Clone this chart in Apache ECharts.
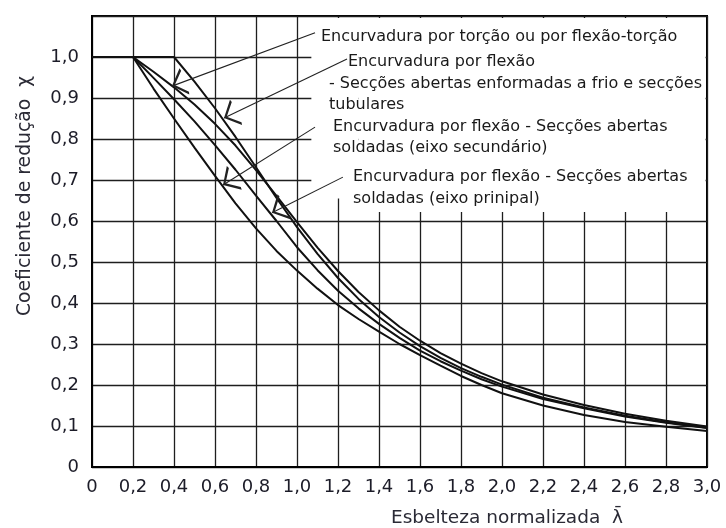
<!DOCTYPE html>
<html><head><meta charset="utf-8">
<script src="https://cdn.jsdelivr.net/npm/echarts@6/dist/echarts.min.js"></script>
<style>html,body{margin:0;padding:0;background:#fff}#c{width:726px;height:528px}</style>
</head><body><div id="c"></div>
<script>
// Normalised slenderness values (x)
const lambdas = [0,0.1,0.2,0.3,0.4,0.5,0.6,0.7,0.8,0.9,1.0,1.1,1.2,1.3,1.4,1.5,1.6,1.7,1.8,1.9,2.0,2.2,2.4,2.6,2.8,3.0];
// Reduction factor curves
const curveTorsion = [1,1,1,1,1,0.940,0.875,0.805,0.731,0.656,0.585,0.520,0.461,0.410,0.366,0.328,0.295,0.266,0.241,0.220,0.201,0.169,0.145,0.125,0.109,0.096];
const curveB = [1,1,1,0.964,0.926,0.884,0.837,0.784,0.724,0.661,0.597,0.535,0.478,0.427,0.382,0.342,0.308,0.278,0.252,0.229,0.209,0.177,0.151,0.130,0.113,0.099];
const curveC = [1,1,1,0.949,0.897,0.843,0.785,0.725,0.662,0.600,0.536,0.480,0.430,0.387,0.349,0.315,0.284,0.258,0.235,0.214,0.196,0.166,0.143,0.123,0.108,0.095];
const curveD = [1,1,1,0.923,0.850,0.779,0.710,0.643,0.582,0.527,0.479,0.435,0.395,0.361,0.330,0.300,0.273,0.247,0.222,0.200,0.180,0.150,0.127,0.110,0.098,0.088];

const xAxisTitle = 'Esbelteza normalizada  \u03BB\u0304';
const yAxisTitle = 'Coeficiente de redução  \u03C7';

// Annotation texts
const annotLines = [
  'Encurvadura por torção ou por flexão-torção',
  'Encurvadura por flexão',
  '- Secções abertas enformadas a frio e secções',
  'tubulares',
  'Encurvadura por flexão - Secções abertas',
  'soldadas (eixo secundário)',
  'Encurvadura por flexão - Secções abertas',
  'soldadas (eixo prinipal)'
];
// Arrow start / tip in data coordinates
const arrowStarts = [[1.088,1.059],[1.244,0.995],[1.088,0.829],[1.224,0.707]];
const arrowTips   = [[0.39,0.929],[0.644,0.851],[0.639,0.688],[0.878,0.620]];

function pairs(ys){ return lambdas.map((x,i)=>[x, ys[i]]); }
function fmtNum(v){ return v === 0 ? '0' : v.toFixed(1).replace('.', ','); }
function fmtY(v){ return v > 1.05 ? '' : fmtNum(v); }

const chart = echarts.init(document.getElementById('c'), null, {renderer:'canvas'});
const curveStyle = {type:'line', showSymbol:false, symbol:'none', smooth:false, z:4,
  lineStyle:{color:'#111', width:2}, silent:true};

const annotPos = [[321,37],[348,62],[329,84],[329,105],[333,127],[333,148],[353,177],[353,199]];
const txtFont = '16px "DejaVu Sans"';
const graphics = annotLines.map((t,i)=>({type:'text', x:annotPos[i][0], y:annotPos[i][1], z:10,
  style:{text:t, font:txtFont, fill:'#1a1a1a', textVerticalAlign:'middle', verticalAlign:'middle'}}));
graphics.push({type:'text', x:25, y:196, rotation:Math.PI/2, z:10,
  style:{text:yAxisTitle, font:'18.8px "DejaVu Sans"', fill:'#2a2a35', textAlign:'center', align:'center', textVerticalAlign:'middle', verticalAlign:'middle'}});
graphics.push({type:'text', x:507, y:518, z:10,
  style:{text:xAxisTitle, font:'18.5px "DejaVu Sans"', fill:'#2a2a35', textAlign:'center', align:'center', textVerticalAlign:'middle', verticalAlign:'middle'}});

const chevron = 'path://M4,0L4.001,0L4,0.001Z M4,14L8,27.3L7.2,28L4,17L0.8,28L0,27.3Z';

chart.setOption({
  animation:false,
  backgroundColor:'#fff',
  grid:{left:92, right:19, top:16, bottom:61, show:true, borderColor:'#000', borderWidth:2, backgroundColor:'transparent'},
  xAxis:{type:'value', min:0, max:3, interval:0.2,
    axisLine:{show:true, lineStyle:{color:'#000', width:2}},
    axisTick:{show:false},
    splitLine:{show:true, lineStyle:{color:'#1e1e1e', width:1.3}},
    axisLabel:{formatter:fmtNum, margin:11, color:'#1c1c28', fontFamily:'DejaVu Sans', fontSize:18}},
  yAxis:{type:'value', min:0, max:1.1, interval:0.1,
    axisLine:{show:true, lineStyle:{color:'#000', width:2}},
    axisTick:{show:false},
    splitLine:{show:true, lineStyle:{color:'#1e1e1e', width:1.3}},
    axisLabel:{formatter:fmtY, margin:13, color:'#1c1c28', fontFamily:'DejaVu Sans', fontSize:18}},
  graphic:graphics,
  series:[
    {type:'line', data:[[1.5,0.8]], showSymbol:false, symbol:'none', lineStyle:{opacity:0}, z:1, silent:true,
      markArea:{silent:true, itemStyle:{color:'#fff', borderWidth:0},
        data:[[{coord:[1.07,1.095]},{coord:[1.3,0.655]}],[{coord:[1.3,1.095]},{coord:[2.993,0.622]}]]}},
    Object.assign({name:'torsion', data:pairs(curveTorsion)}, curveStyle),
    Object.assign({name:'b', data:pairs(curveB)}, curveStyle),
    Object.assign({name:'c', data:pairs(curveC)}, curveStyle),
    Object.assign({name:'d', data:pairs(curveD)}, curveStyle),
    {type:'lines', coordinateSystem:'cartesian2d', z:6, silent:true,
      symbol:['none', chevron], symbolSize:[8,28],
      lineStyle:{color:'#222', width:1.1, opacity:1},
      data: arrowStarts.map((s,i)=>({coords:[s, arrowTips[i]]}))}
  ]
});
</script>
</body></html>
